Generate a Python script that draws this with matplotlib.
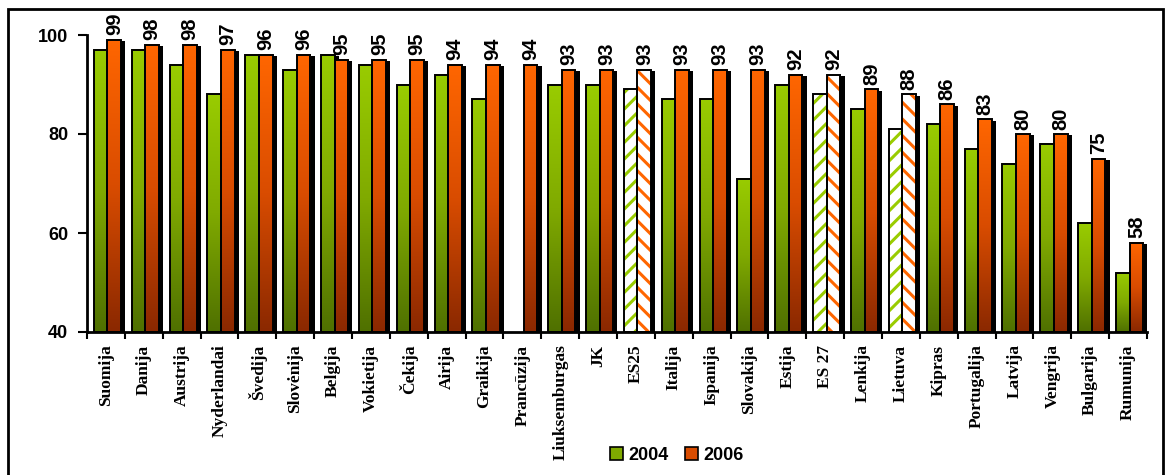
"""Internet access share by country, 2004 vs 2006 (bar chart with gradients)."""

import numpy as np
import matplotlib
matplotlib.use("Agg")
import matplotlib.pyplot as plt
from matplotlib.colors import LinearSegmentedColormap
from matplotlib.patches import Rectangle

countries = ["Suomija", "Danija", "Austrija", "Nyderlandai", "Švedija", "Slovėnija",
             "Belgija", "Vokietija", "Čekija", "Airija", "Graikija", "Prancūzija",
             "Liuksemburgas", "JK", "ES25", "Italija", "Ispanija", "Slovakija", "Estija",
             "ES 27", "Lenkija", "Lietuva", "Kipras", "Portugalija", "Latvija",
             "Vengrija", "Bulgarija", "Rumunija"]
vals_2004 = [97, 97, 94, 88, 96, 93, 96, 94, 90, 92, 87, np.nan, 90, 90, 89, 87, 87,
             71, 90, 88, 85, 81, 82, 77, 74, 78, 62, 52]
vals_2006 = [99, 98, 98, 97, 96, 96, 95, 95, 95, 94, 94, 94, 93, 93, 93, 93, 93, 93,
             92, 92, 89, 88, 86, 83, 80, 80, 75, 58]
hatched = ["ES25", "ES 27", "Lietuva"]
years = ["2004", "2006"]

YMIN, YMAX = 40, 100
GREEN_CMAP = LinearSegmentedColormap.from_list("g", ["#4f7000", "#80aa00", "#99cc00"])
ORANGE_CMAP = LinearSegmentedColormap.from_list("o", ["#8a2800", "#d94c00", "#ff6600"])
GREEN, ORANGE = "#99cc00", "#ff6600"

W = 0.36
OFFS = [0.18, 0.18 + W]


def draw_bar(ax, x0, h, cmap, color, hatch):
    if np.isnan(h):
        return
    # drop shadow
    ax.add_patch(Rectangle((x0 + 0.11, YMIN), W, h - YMIN - 0.3, facecolor="black",
                           edgecolor="none", zorder=2))
    if hatch:
        ax.add_patch(Rectangle((x0, YMIN), W, h - YMIN, facecolor="white", edgecolor=color,
                               hatch=hatch, linewidth=0, zorder=3))
    else:
        grad = np.linspace(0, 1, 256).reshape(-1, 1)
        ax.imshow(grad, extent=(x0, x0 + W, YMIN, h), origin="lower", cmap=cmap,
                  aspect="auto", zorder=3, interpolation="bilinear")
    ax.add_patch(Rectangle((x0, YMIN), W, h - YMIN, fill=False, edgecolor="black",
                           linewidth=1.4, zorder=4))


plt.rcParams["hatch.linewidth"] = 2.2
fig = plt.figure(figsize=(11.67, 4.75), dpi=100)
ax = fig.add_axes([87 / 1167, 1 - 332 / 475, 1060 / 1167, 297 / 475])

for i, c in enumerate(countries):
    h = c in hatched
    draw_bar(ax, i + OFFS[0], vals_2004[i], GREEN_CMAP, GREEN, "//" if h else None)
    draw_bar(ax, i + OFFS[1], vals_2006[i], ORANGE_CMAP, ORANGE, "\\\\" if h else None)
    ax.text(i + OFFS[1] + W / 2, vals_2006[i] + 0.9, f"{vals_2006[i]:g}", rotation=90,
            ha="center", va="bottom", fontsize=14.5, fontweight="bold",
            family="Liberation Sans", clip_on=False, zorder=5)

ax.set_xlim(0, len(countries))
ax.set_ylim(YMIN, YMAX)
ax.set_yticks([40, 60, 80, 100])
ax.set_yticklabels(["40", "60", "80", "100"], fontsize=13, fontweight="bold",
                   family="Liberation Sans")
ax.tick_params(axis="y", length=6.5, width=1.5, direction="out", pad=7)

ax.set_xticks(np.arange(len(countries)) + 0.5)
ax.set_xticklabels(countries, rotation=90, fontsize=12.5, fontweight="bold",
                   family="Liberation Serif", va="top")
ax.set_xticks(np.arange(len(countries) + 1), minor=True)
ax.tick_params(axis="x", which="major", length=0, pad=9)
ax.tick_params(axis="x", which="minor", length=5, width=1.5, direction="out")

for s in ["top", "right"]:
    ax.spines[s].set_visible(False)
for s in ["left", "bottom"]:
    ax.spines[s].set_linewidth(2)
    ax.spines[s].set_zorder(6)

# legend
handles = [Rectangle((0, 0), 1, 1, facecolor="#80aa00", edgecolor="black", lw=1.2),
           Rectangle((0, 0), 1, 1, facecolor="#d94c00", edgecolor="black", lw=1.2)]
fig.legend(handles, years, loc="center", bbox_to_anchor=(0.58, 0.042), ncol=2,
           frameon=False, handlelength=0.7, handleheight=0.7,
           handletextpad=0.3, columnspacing=0.9,
           prop={"family": "Liberation Sans", "size": 13, "weight": "bold"})

# outer frame
fig.patches.append(Rectangle((8 / 1167, -0.1), 1155 / 1167, 1.1 - 9 / 475,
                             transform=fig.transFigure, fill=False, edgecolor="black",
                             linewidth=2, figure=fig))

fig.savefig("out.png", dpi=100)
